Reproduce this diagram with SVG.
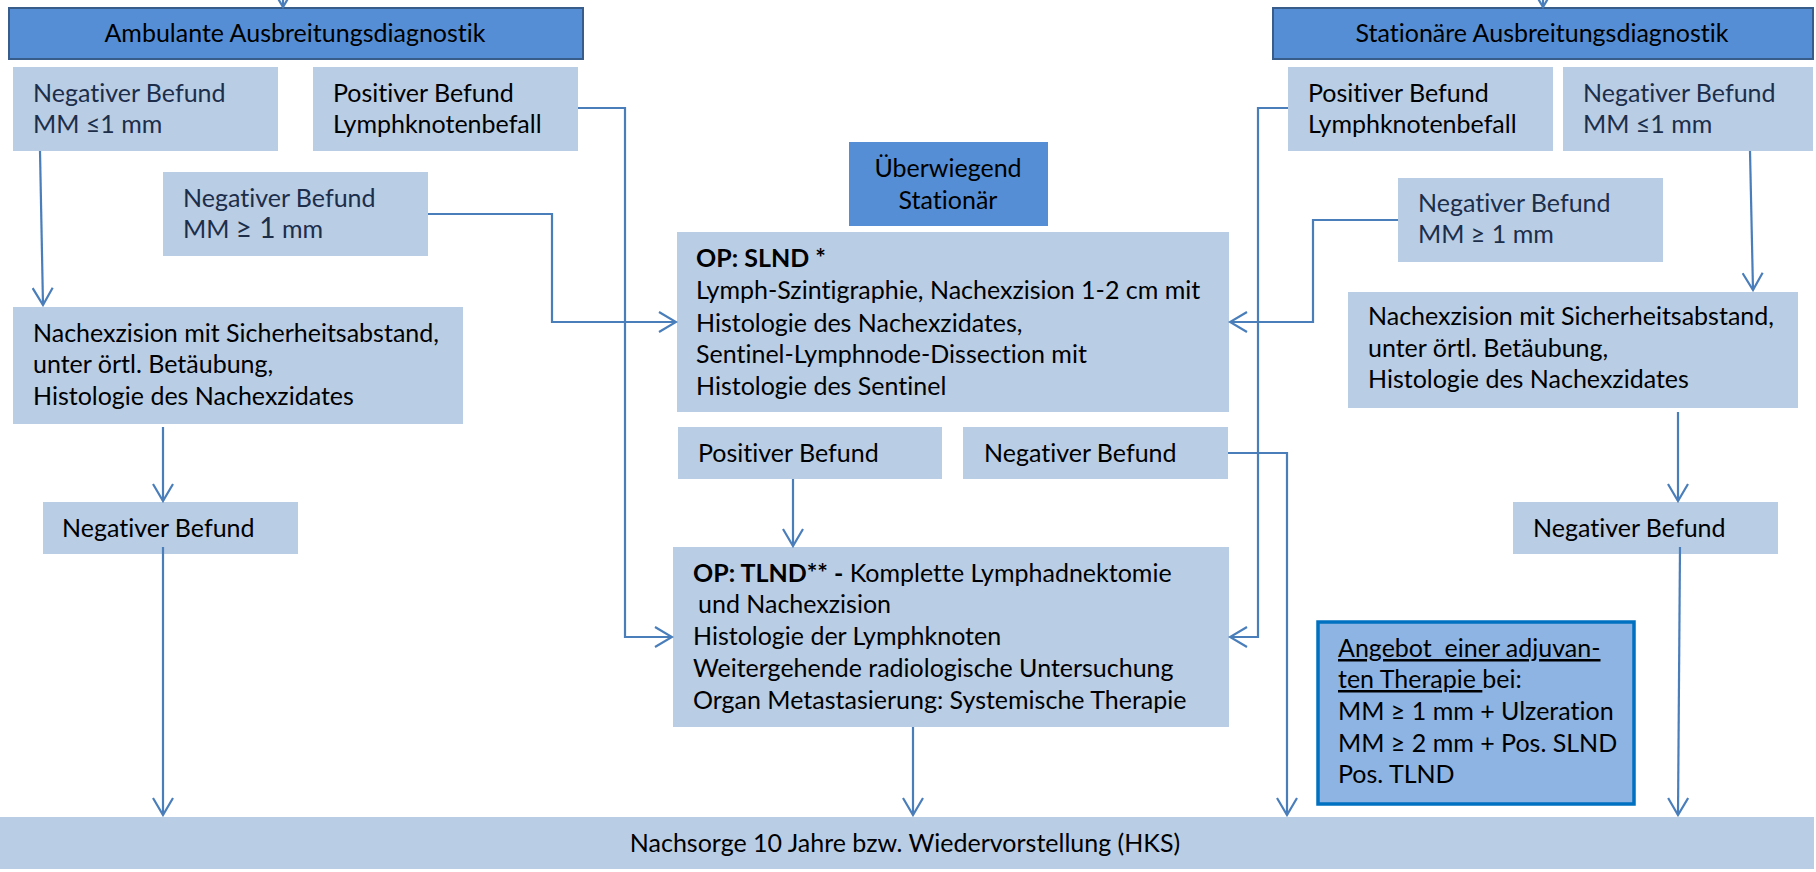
<svg xmlns="http://www.w3.org/2000/svg" width="1816" height="872" viewBox="0 0 1816 872">
<style>
.box{fill:#B9CDE5}
.hdr{fill:#558ED5;stroke:#385D8A;stroke-width:2}
.mid{fill:#558ED5}
.adj{fill:#8EB4E3;stroke:#0070C0;stroke-width:3.5}
.t{font-family:Lato,"Noto Sans",sans-serif;font-size:25px;fill:#000;font-variant-ligatures:none}
.n{fill:#1c2e4a}
.b{font-weight:bold}
.c{fill:none;stroke:#4A7EBB;stroke-width:2.2}
.pre{white-space:pre}
</style>
<defs>
<marker id="ah" viewBox="0 0 20 22" refX="18" refY="11" markerWidth="20" markerHeight="22" markerUnits="userSpaceOnUse" orient="auto">
<path d="M1,1 L18,11 L1,21" fill="none" stroke="#4A7EBB" stroke-width="2.2"/>
</marker>
</defs>

<g id="amb"><rect class="hdr" x="9" y="8" width="574" height="51"/><text class="t" x="295" y="42" text-anchor="middle">Ambulante Ausbreitungsdiagnostik</text></g>
<g id="stat"><rect class="hdr" x="1273" y="8" width="540" height="51"/><text class="t" x="1542" y="42" text-anchor="middle">Stationäre Ausbreitungsdiagnostik</text></g>

<g id="negL1"><rect class="box" x="13" y="67" width="265" height="84"/><text class="t n" x="33" y="102">Negativer Befund</text><text class="t n" x="33" y="133">MM ≤1 mm</text></g>
<g id="posL"><rect class="box" x="313" y="67" width="265" height="84"/><text class="t" x="333" y="102">Positiver Befund</text><text class="t" x="333" y="133">Lymphknotenbefall</text></g>
<g id="negL2"><rect class="box" x="163" y="172" width="265" height="84"/><text class="t n" x="183" y="207">Negativer Befund</text><text class="t n" x="183" y="238">MM <tspan font-size="28">≥ 1</tspan> mm</text></g>

<g id="posR"><rect class="box" x="1288" y="67" width="265" height="84"/><text class="t" x="1308" y="102">Positiver Befund</text><text class="t" x="1308" y="133">Lymphknotenbefall</text></g>
<g id="negR1"><rect class="box" x="1563" y="67" width="250" height="84"/><text class="t n" x="1583" y="102">Negativer Befund</text><text class="t n" x="1583" y="133">MM ≤1 mm</text></g>
<g id="negR2"><rect class="box" x="1398" y="178" width="265" height="84"/><text class="t n" x="1418" y="212">Negativer Befund</text><text class="t n" x="1418" y="243">MM ≥ 1 mm</text></g>

<g id="ueber"><rect class="mid" x="849" y="142" width="199" height="84"/><text class="t" x="948" y="177" text-anchor="middle">Überwiegend</text><text class="t" x="948" y="209" text-anchor="middle">Stationär</text></g>

<g id="slnd"><rect class="box" x="677" y="232" width="552" height="180"/>
<text class="t b" x="696" y="267">OP: SLND *</text>
<text class="t" x="696" y="299">Lymph-Szintigraphie, Nachexzision 1-2 cm mit</text>
<text class="t" x="696" y="332">Histologie des Nachexzidates,</text>
<text class="t" x="696" y="363">Sentinel-Lymphnode-Dissection mit</text>
<text class="t" x="696" y="395">Histologie des Sentinel</text></g>

<g id="nachL"><rect class="box" x="13" y="307" width="450" height="117"/>
<text class="t" x="33" y="342">Nachexzision mit Sicherheitsabstand,</text>
<text class="t" x="33" y="373">unter örtl. Betäubung,</text>
<text class="t" x="33" y="405">Histologie des Nachexzidates</text></g>

<g id="nachR"><rect class="box" x="1348" y="292" width="450" height="116"/>
<text class="t" x="1368" y="325">Nachexzision mit Sicherheitsabstand,</text>
<text class="t" x="1368" y="357">unter örtl. Betäubung,</text>
<text class="t" x="1368" y="388">Histologie des Nachexzidates</text></g>

<g id="posC"><rect class="box" x="678" y="427" width="264" height="52"/><text class="t" x="698" y="462">Positiver Befund</text></g>
<g id="negC"><rect class="box" x="963" y="427" width="265" height="52"/><text class="t" x="984" y="462">Negativer Befund</text></g>

<g id="negL3"><rect class="box" x="43" y="502" width="255" height="52"/><text class="t" x="62" y="537">Negativer Befund</text></g>
<g id="negR3"><rect class="box" x="1513" y="502" width="265" height="52"/><text class="t" x="1533" y="537">Negativer Befund</text></g>

<g id="tlnd"><rect class="box" x="673" y="547" width="556" height="180"/>
<text class="t" x="693" y="582"><tspan class="b">OP: TLND** -</tspan> Komplette Lymphadnektomie</text>
<text class="t" x="698" y="613">und Nachexzision</text>
<text class="t" x="693" y="645">Histologie der Lymphknoten</text>
<text class="t" x="693" y="677">Weitergehende radiologische Untersuchung</text>
<text class="t" x="693" y="709">Organ Metastasierung: Systemische Therapie</text></g>

<g id="adjuvant"><rect class="adj" x="1318" y="622" width="316" height="182"/>
<text class="t pre" x="1338" y="657"><tspan text-decoration="underline">Angebot  einer adjuvan-</tspan></text>
<text class="t pre" x="1338" y="688"><tspan text-decoration="underline">ten Therapie </tspan>bei:</text>
<text class="t" x="1338" y="720">MM ≥ 1 mm + Ulzeration</text>
<text class="t" x="1338" y="752">MM ≥ 2 mm + Pos. SLND</text>
<text class="t" x="1338" y="783">Pos. TLND</text></g>

<g id="nachsorge"><rect class="box" x="0" y="817" width="1814" height="52"/><text class="t" x="905" y="852" text-anchor="middle">Nachsorge 10 Jahre bzw. Wiedervorstellung (HKS)</text></g>

<g id="connectors">
<path class="c" d="M283,-30 L283,7" marker-end="url(#ah)"/>
<path class="c" d="M1543,-30 L1543,7" marker-end="url(#ah)"/>
<path class="c" d="M40,151 L43,305" marker-end="url(#ah)"/>
<path class="c" d="M163,427 L163,501" marker-end="url(#ah)"/>
<path class="c" d="M163,547 L163,815" marker-end="url(#ah)"/>
<path class="c" d="M578,108 L625,108 L625,637 L672,637" marker-end="url(#ah)"/>
<path class="c" d="M428,214 L552,214 L552,322 L676,322" marker-end="url(#ah)"/>
<path class="c" d="M793,479 L793,546" marker-end="url(#ah)"/>
<path class="c" d="M913,727 L913,815" marker-end="url(#ah)"/>
<path class="c" d="M1228,453 L1287,453 L1287,815" marker-end="url(#ah)"/>
<path class="c" d="M1288,108 L1258,108 L1258,637 L1230,637" marker-end="url(#ah)"/>
<path class="c" d="M1398,220 L1313,220 L1313,322 L1230,322" marker-end="url(#ah)"/>
<path class="c" d="M1750,151 L1753,290" marker-end="url(#ah)"/>
<path class="c" d="M1678,412 L1678,501" marker-end="url(#ah)"/>
<path class="c" d="M1680,547 L1678,815" marker-end="url(#ah)"/>
</g>
</svg>
